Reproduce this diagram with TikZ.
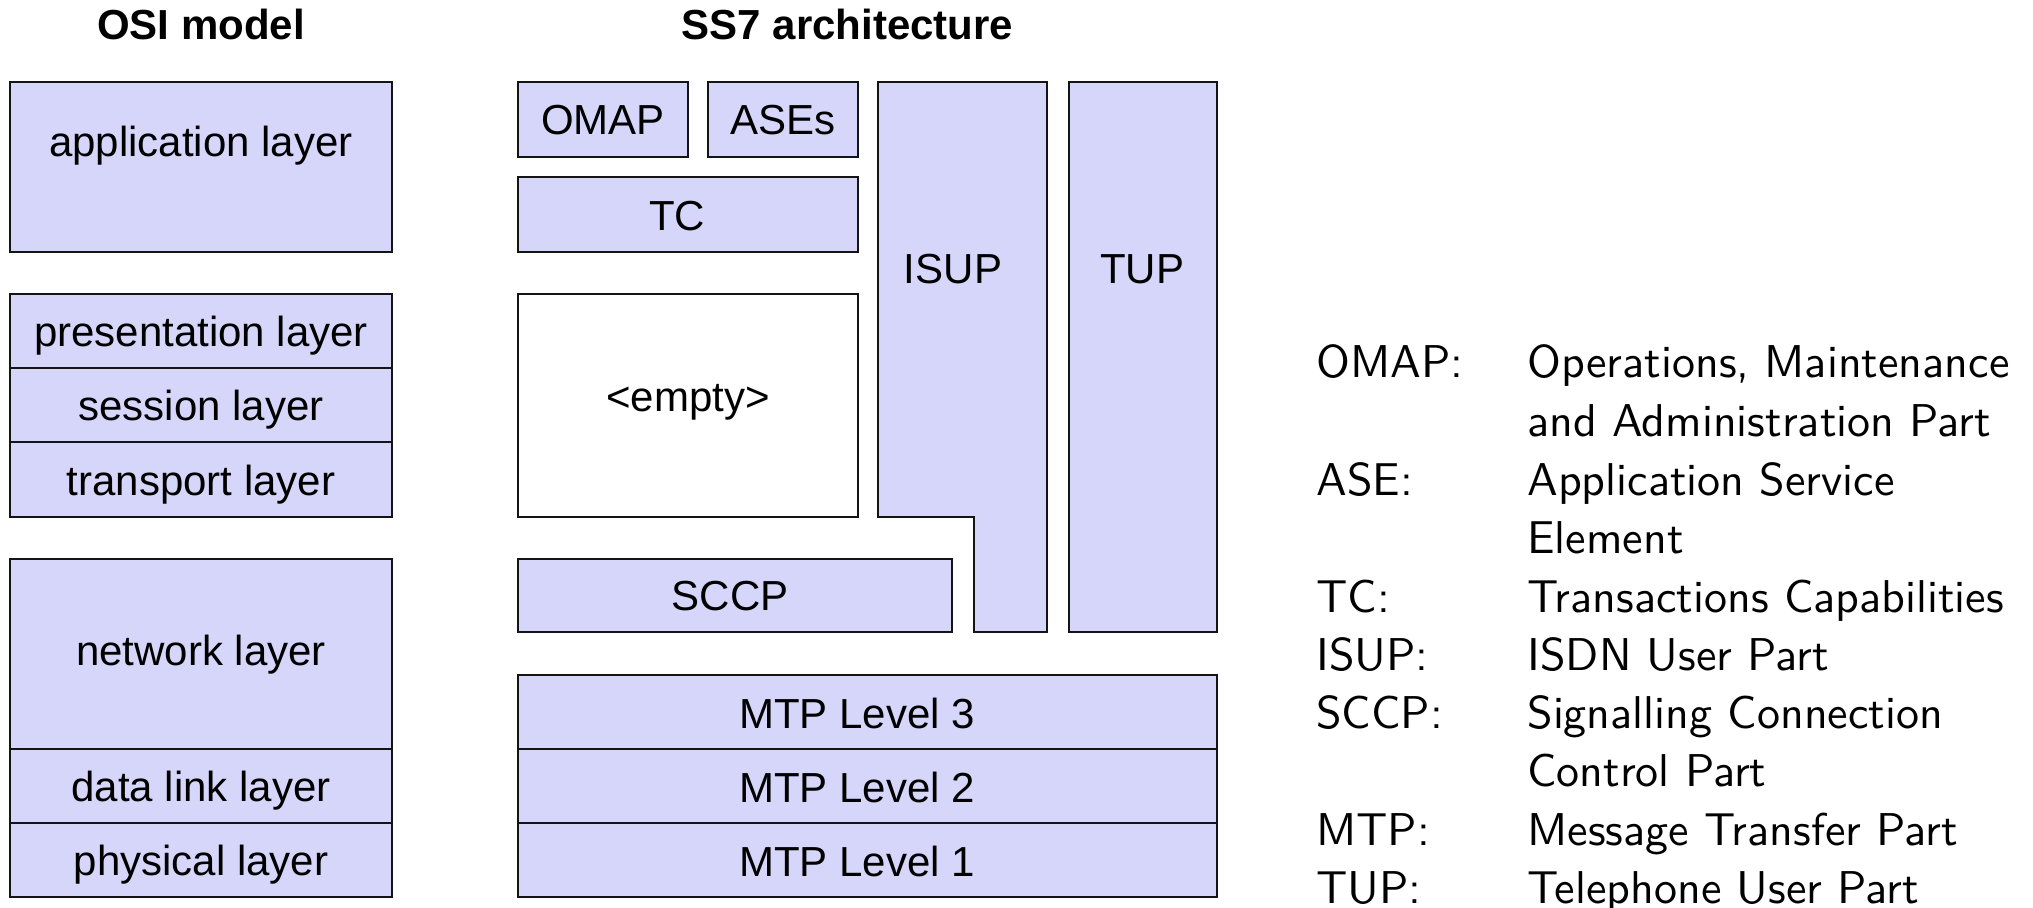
\documentclass[tikz,border=0pt]{standalone}
\usepackage{fontspec}
\setmainfont{Liberation Sans}
\newfontfamily\legendfont{lmsans10-regular.otf}
\definecolor{layerfill}{RGB}{214,214,250}
\definecolor{edge}{RGB}{20,20,20}
\begin{document}
\begin{tikzpicture}[x=0.5pt,y=-0.5pt,
  layer/.style={draw=edge, line width=1pt, fill=layerfill},
  blank/.style={draw=edge, line width=1pt, fill=white},
  lbl/.style={anchor=base, inner sep=0pt, font=\fontsize{21}{25}\selectfont},
  ttl/.style={anchor=base, inner sep=0pt, font=\fontsize{21}{25}\selectfont\bfseries},
  abbr/.style={anchor=base west, inner sep=0pt, font=\legendfont\fontsize{23}{28}\selectfont}]
\useasboundingbox (0,0) rectangle (2033,908);

% titles
\node[ttl] (tosi) at (201,40) {OSI model};
\node[ttl] (tss7) at (847.5,40) {SS7 architecture};

% OSI model
\draw[layer] (10,82) rectangle (392,252);
\draw[layer] (10,294) rectangle (392,368);
\draw[layer] (10,368) rectangle (392,442);
\draw[layer] (10,442) rectangle (392,517);
\draw[layer] (10,559) rectangle (392,749);
\draw[layer] (10,749) rectangle (392,823);
\draw[layer] (10,823) rectangle (392,897);
\node[lbl] (app) at (201,157) {application layer};
\node[lbl] (pres) at (201,347) {presentation layer};
\node[lbl] (sess) at (201,421) {session layer};
\node[lbl] (trans) at (201,495) {transport layer};
\node[lbl] (net) at (201,665) {network layer};
\node[lbl] (dl) at (201,801) {data link layer};
\node[lbl] (phys) at (201,875) {physical layer};

% SS7 architecture
\draw[layer] (518,82) rectangle (688,157);
\draw[layer] (708,82) rectangle (858,157);
\draw[layer] (518,177) rectangle (858,252);
\draw[blank] (518,294) rectangle (858,517);
\draw[layer] (878,82) -- (1047,82) -- (1047,632) -- (974,632) -- (974,517) -- (878,517) -- cycle;
\draw[layer] (1069,82) rectangle (1217,632);
\draw[layer] (518,559) rectangle (952,632);
\draw[layer] (518,675) rectangle (1217,749);
\draw[layer] (518,749) rectangle (1217,823);
\draw[layer] (518,823) rectangle (1217,897);
\node[lbl] (omap) at (603,135) {OMAP};
\node[lbl] (ases) at (783,135) {ASEs};
\node[lbl] (tc) at (677,231) {TC};
\node[lbl] (empty) at (688,412) {<empty>};
\node[lbl] (isup) at (953,284) {ISUP};
\node[lbl] (tup) at (1142,284) {TUP};
\node[lbl] (sccp) at (730,610) {SCCP};
\node[lbl] (mtp3) at (857,728) {MTP Level 3};
\node[lbl] (mtp2) at (857,802) {MTP Level 2};
\node[lbl] (mtp1) at (857,876) {MTP Level 1};

% legend
\node[abbr] (k1) at (1316,378) {OMAP:};
\node[abbr] (v1) at (1527,378) {Operations, Maintenance};
\node[abbr] (v1b) at (1527,436.5) {and Administration Part};
\node[abbr] (k2) at (1316,495) {ASE:};
\node[abbr] (v2) at (1527,495) {Application Service};
\node[abbr] (v2b) at (1527,553) {Element};
\node[abbr] (k3) at (1316,612) {TC:};
\node[abbr] (v3) at (1527,612) {Transactions Capabilities};
\node[abbr] (k4) at (1316,670) {ISUP:};
\node[abbr] (v4) at (1527,670) {ISDN User Part};
\node[abbr] (k5) at (1316,728.5) {SCCP:};
\node[abbr] (v5) at (1527,728.5) {Signalling Connection};
\node[abbr] (v5b) at (1527,786.5) {Control Part};
\node[abbr] (k6) at (1316,845) {MTP:};
\node[abbr] (v6) at (1527,845) {Message Transfer Part};
\node[abbr] (k7) at (1316,903) {TUP:};
\node[abbr] (v7) at (1527,903) {Telephone User Part};
\end{tikzpicture}
\end{document}
